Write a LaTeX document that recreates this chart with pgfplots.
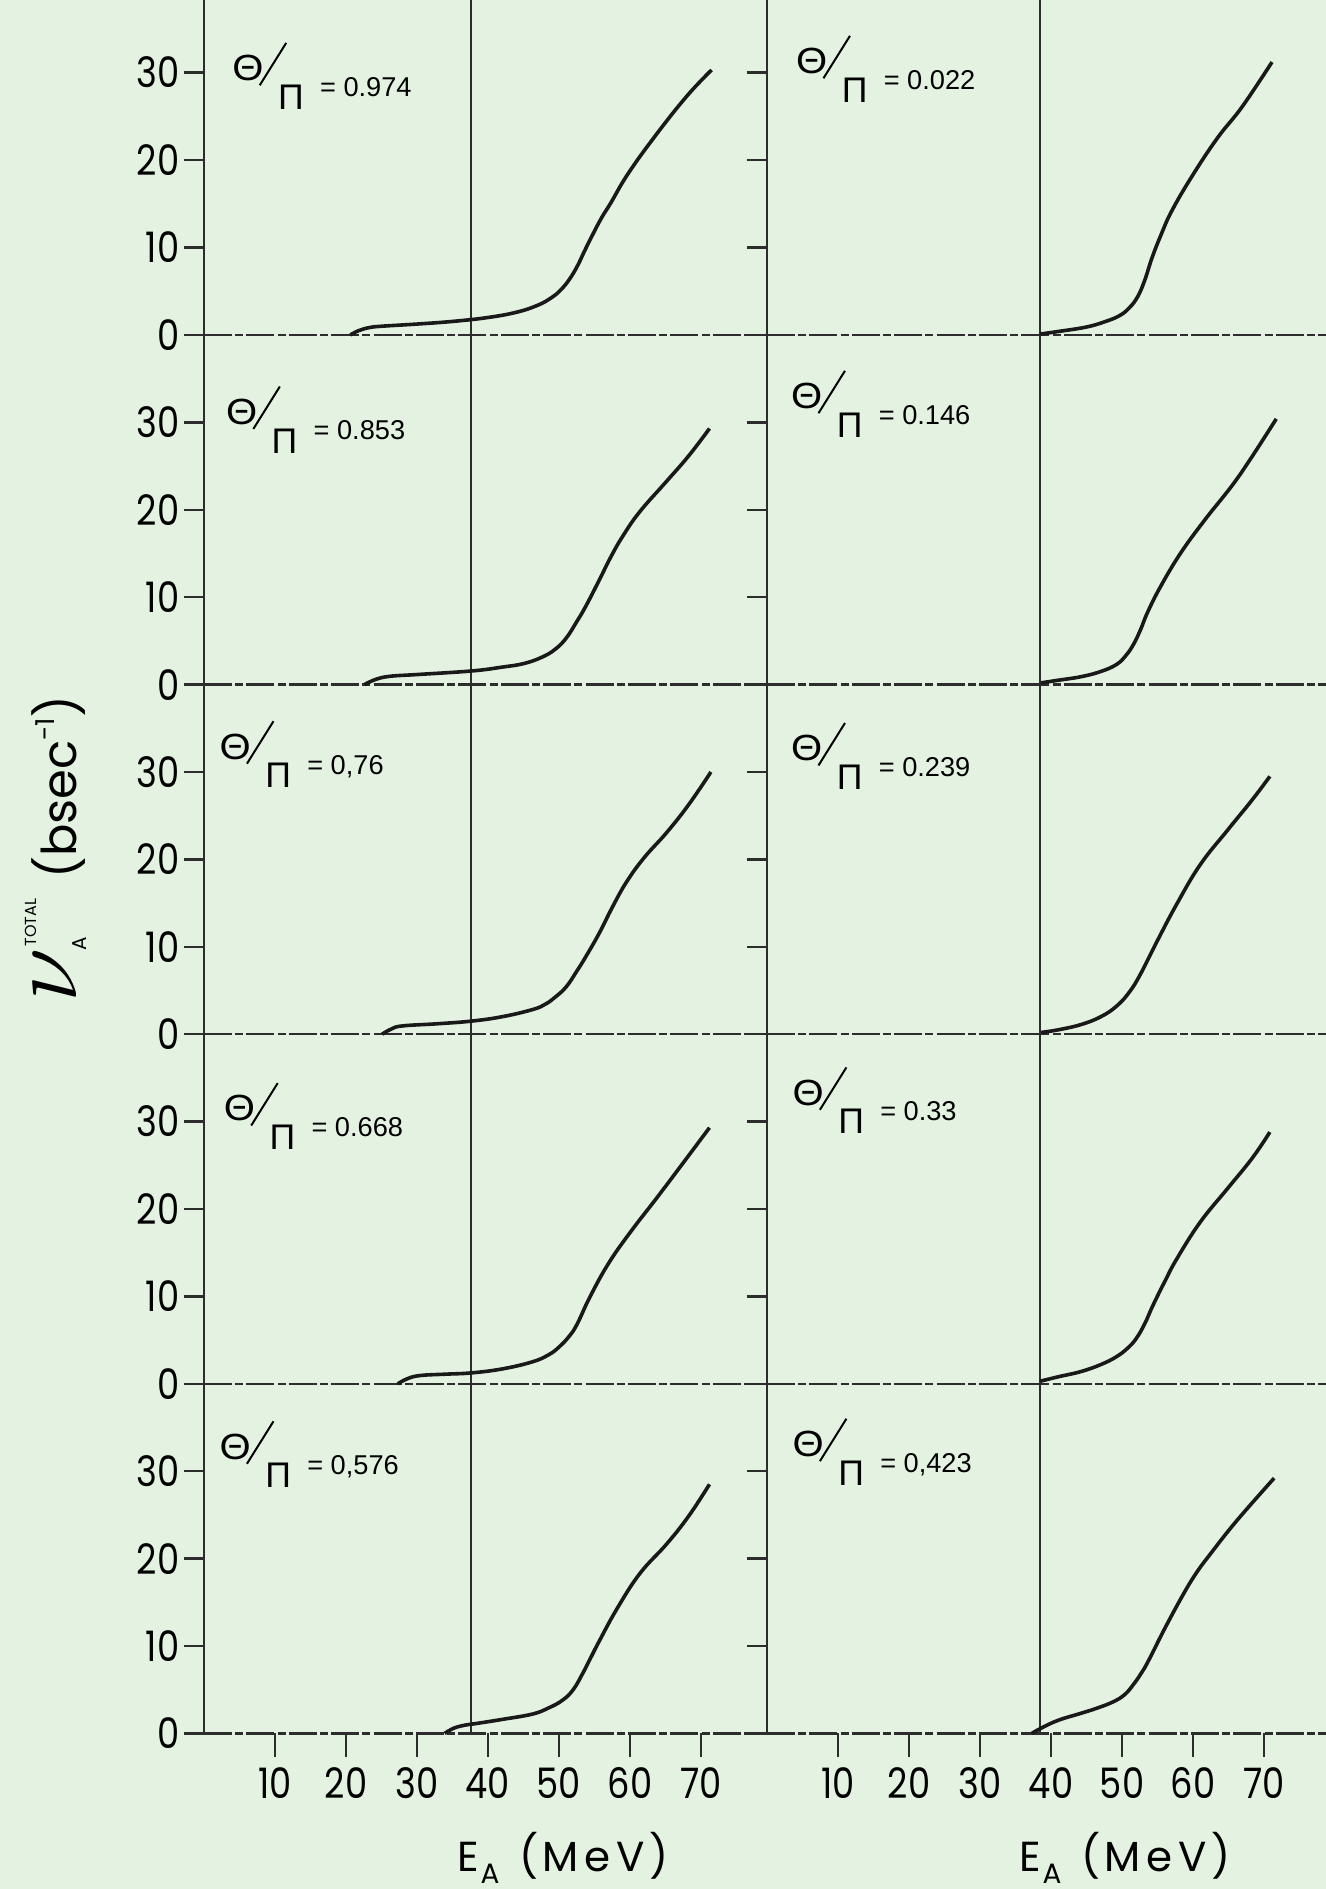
\documentclass[border=0pt]{standalone}
\usepackage{fontspec}
\setmainfont{Liberation Sans}
\newfontfamily\pop{Poppins}
\newfontfamily\popn{Poppins}[FakeStretch=0.84]
\usepackage{graphicx}
\usepackage{pgfplots}
\pgfplotsset{compat=1.18}
\definecolor{bgcol}{RGB}{228,242,226}
\definecolor{linec}{RGB}{45,45,45}

\newcommand\lab[1]{%
 \rlap{\raisebox{3.9pt}{\scalebox{1.1}[1]{\fontsize{9.1}{9.1}\selectfont Θ}}}%
 \kern6.6pt\rlap{\raisebox{2.6pt}{\rotatebox{58}{\rule{12.5pt}{0.5pt}}}}%
 \kern4.8pt\rlap{\raisebox{-3.3pt}{\fontsize{8.9}{8.9}\selectfont Π}}%
 \kern10.5pt{\fontsize{6.8}{6.8}\selectfont = #1}}

\tikzset{vline/.style={linec, line width=0.5pt}}
\pgfplotsset{
 panel/.style={scale only axis, anchor=south west, xmin=0, ymin=0, ymax=40, height=87.4pt,
   axis x line=bottom, axis y line=left,
   axis line style={-, line width=0.6pt, color=linec},
   x axis line style={-, dash pattern=on 7pt off 0.8pt on 2pt off 0.8pt},
   y axis line style={-},
   ytick={0,10,20,30}, xtick=\empty, tick align=outside, major tick length=5pt,
   tick style={line width=0.6pt, color=linec},
   ticklabel style={font=\popn\fontsize{10.5}{10.5}\selectfont, text=black},
   yticklabel style={inner xsep=1pt},
   /pgf/number format/assume math mode=true,
   clip=false},
 leftcol/.style={width=140.75pt, xmax=79.3},
 rightcol/.style={width=139.75pt, xmax=78.7, yticklabels={}},
 toprow/.style={ymax=38.3, height=83.75pt},
 bottomrow/.style={xtick={10,20,30,40,50,60,70},
   xtick style={/pgfplots/major tick length=5.8pt},
   xticklabel style={yshift=0pt},
   xlabel={\pop\fontsize{10.5}{10.5}\selectfont E\kern0.5pt\raisebox{-3pt}{\fontsize{7}{7}\selectfont A}\hspace{5pt}(\kern1pt M\kern1.5pt e\kern1.5pt V\kern1pt)},
   xlabel style={at={(rel axis cs:0.637,0)}, anchor=base, yshift=-34.6pt}},
 curve/.style={black!90, line width=0.9pt, smooth, tension=0.7, mark=none}
}

\begin{document}
\begin{tikzpicture}
\fill[bgcol] (-51pt,-38.9pt) rectangle (280.5pt,433.35pt);
\useasboundingbox (-51pt,-38.9pt) rectangle (280.5pt,433.35pt);

% ---------------- left column ----------------
\begin{axis}[panel, leftcol, toprow, at={(0pt,349.6pt)}]
\draw[vline] (axis cs:37.6,0) -- (axis cs:37.6,38.3);
\addplot[curve] coordinates {(20.6,0) (21.8,0.5) (23.3,0.85) (25,1.0) (30,1.25) (35,1.55) (40,2.0) (44,2.6) (47,3.4) (49,4.3) (50.3,5.2) (51.5,6.4) (52.6,7.9) (53.6,9.6) (54.7,11.4) (56,13.4) (57.3,15.1) (59.7,18.4) (63.5,22.7) (68,27.3) (71.5,30.3)};
\node[anchor=base west, inner sep=0pt] at (axis cs:3.9,27.3) {\lab{0.974}};
\end{axis}

\begin{axis}[panel, leftcol, at={(0pt,262.2pt)}]
\draw[vline] (axis cs:37.6,0) -- (axis cs:37.6,40);
\addplot[curve] coordinates {(22.6,0) (24.2,0.6) (26.2,0.95) (30,1.15) (37.7,1.56) (42,2) (45,2.4) (47.5,3.1) (49.4,4.0) (51,5.3) (52.5,7.2) (53.8,9.0) (55.7,12) (57.3,14.6) (59,17) (61.4,19.8) (65.2,23.3) (68.3,26.2) (71.2,29.3)};
\node[anchor=base west, inner sep=0pt] at (axis cs:3.0,28.0) {\lab{0.853}};
\end{axis}

\begin{axis}[panel, leftcol, at={(0pt,174.8pt)}]
\draw[vline] (axis cs:37.6,0) -- (axis cs:37.6,40);
\addplot[curve] coordinates {(25.1,0) (26.4,0.6) (28,0.95) (33,1.2) (37.7,1.5) (42,2) (46.2,2.8) (48,3.4) (49.4,4.2) (51,5.4) (52.5,7.2) (53.8,8.9) (55.7,11.6) (57.5,14.5) (59.5,17.4) (62,20.2) (65.2,23.1) (68.3,26.3) (71.4,30.0)};
\node[anchor=base west, inner sep=0pt] at (axis cs:2.1,29.7) {\lab{0,76}};
\end{axis}

\begin{axis}[panel, leftcol, at={(0pt,87.4pt)}]
\draw[vline] (axis cs:37.6,0) -- (axis cs:37.6,40);
\addplot[curve] coordinates {(27.3,0) (28.7,0.6) (30.5,0.95) (34,1.1) (37.7,1.25) (42,1.7) (46.2,2.5) (48.5,3.3) (50,4.2) (51.5,5.5) (52.6,6.9) (54.4,10) (57,13.8) (60.1,17.4) (63.9,21.4) (67.7,25.5) (71.2,29.3)};
\node[anchor=base west, inner sep=0pt] at (axis cs:2.7,28.3) {\lab{0.668}};
\end{axis}

\begin{axis}[panel, leftcol, bottomrow, at={(0pt,0pt)}]
\draw[vline] (axis cs:37.6,0) -- (axis cs:37.6,40);
\addplot[curve] coordinates {(33.9,0) (35.2,0.6) (36.8,0.95) (38.5,1.15) (42,1.6) (46.2,2.2) (48.5,2.9) (50.5,3.8) (52,5) (53.3,6.8) (54.5,8.7) (55.7,10.6) (58.2,14.3) (61.4,18.3) (65.2,21.7) (68.3,24.9) (71.2,28.5)};
\node[anchor=base west, inner sep=0pt] at (axis cs:2.1,29.6) {\lab{0,576}};
\end{axis}

% ---------------- right column ----------------
\begin{axis}[panel, rightcol, toprow, at={(140.75pt,349.6pt)}]
\draw[vline] (axis cs:38.4,0) -- (axis cs:38.4,38.3);
\addplot[curve] coordinates {(38.4,0.1) (41,0.4) (44.9,0.9) (47.5,1.5) (49.6,2.2) (51,3.1) (52.2,4.4) (53.2,6.3) (54.2,8.8) (55.5,11.5) (57,14.2) (59.8,18.1) (63.4,22.5) (66.9,26.1) (71.1,31.2)};
\node[anchor=base west, inner sep=0pt] at (axis cs:4.0,28.1) {\lab{0.022}};
\end{axis}

\begin{axis}[panel, rightcol, at={(140.75pt,262.2pt)}]
\draw[vline] (axis cs:38.4,0) -- (axis cs:38.4,40);
\addplot[curve] coordinates {(38.6,0.2) (41,0.5) (44.2,0.9) (47,1.5) (49.2,2.3) (50.5,3.3) (51.6,4.6) (52.6,6.3) (53.6,8.3) (55.4,11.2) (58.2,15) (61.6,18.8) (65.5,22.8) (68.3,26.1) (71.7,30.4)};
\node[anchor=base west, inner sep=0pt] at (axis cs:3.3,29.8) {\lab{0.146}};
\end{axis}

\begin{axis}[panel, rightcol, at={(140.75pt,174.8pt)}]
\draw[vline] (axis cs:38.4,0) -- (axis cs:38.4,40);
\addplot[curve] coordinates {(38.6,0.2) (41,0.5) (44.2,1.1) (47,2) (49.2,3.2) (51,4.8) (52.6,6.9) (54.9,10.6) (57.7,14.9) (61,19.4) (64.9,23.4) (68.3,26.8) (70.8,29.5)};
\node[anchor=base west, inner sep=0pt] at (axis cs:3.3,29.5) {\lab{0.239}};
\end{axis}

\begin{axis}[panel, rightcol, at={(140.75pt,87.4pt)}]
\draw[vline] (axis cs:38.4,0) -- (axis cs:38.4,40);
\addplot[curve] coordinates {(38.5,0.3) (41,0.8) (44.2,1.4) (47,2.2) (49.2,3.1) (50.8,4.1) (52,5.2) (53.2,6.9) (54.3,8.9) (56,11.7) (57.7,14.3) (61,18.5) (64.9,22.4) (68.3,25.8) (70.8,28.8)};
\node[anchor=base west, inner sep=0pt] at (axis cs:3.5,30.1) {\lab{0.33}};
\end{axis}

\begin{axis}[panel, rightcol, bottomrow, at={(140.75pt,0pt)}, xlabel style={at={(rel axis cs:0.64,0)}}]
\draw[vline] (axis cs:38.4,0) -- (axis cs:38.4,40);
\addplot[curve] coordinates {(37.3,0) (38.6,0.6) (41,1.5) (44.2,2.3) (46.5,2.9) (48.7,3.6) (50.3,4.4) (51.5,5.5) (52.7,6.9) (53.7,8.3) (56,12) (58.6,15.9) (60.4,18.3) (62.3,20.4) (66.1,24.3) (71.4,29.2)};
\node[anchor=base west, inner sep=0pt] at (axis cs:3.5,29.9) {\lab{0,423}};
\end{axis}

% y label
\node[rotate=90, anchor=base, inner sep=0pt] at (-31.8pt,221pt)
 {\pop\fontsize{12}{12}\selectfont\rlap{\raisebox{-2.5pt}{\kern13pt\fontsize{5}{5}\selectfont A}}{\fontsize{30}{30}\selectfont$\nu$}\kern0.5pt\raisebox{10pt}{\fontsize{4}{4}\selectfont TOTAL}\kern5pt(bsec\raisebox{5.5pt}{\fontsize{6.5}{6.5}\selectfont -1})};
\end{tikzpicture}
\end{document}
